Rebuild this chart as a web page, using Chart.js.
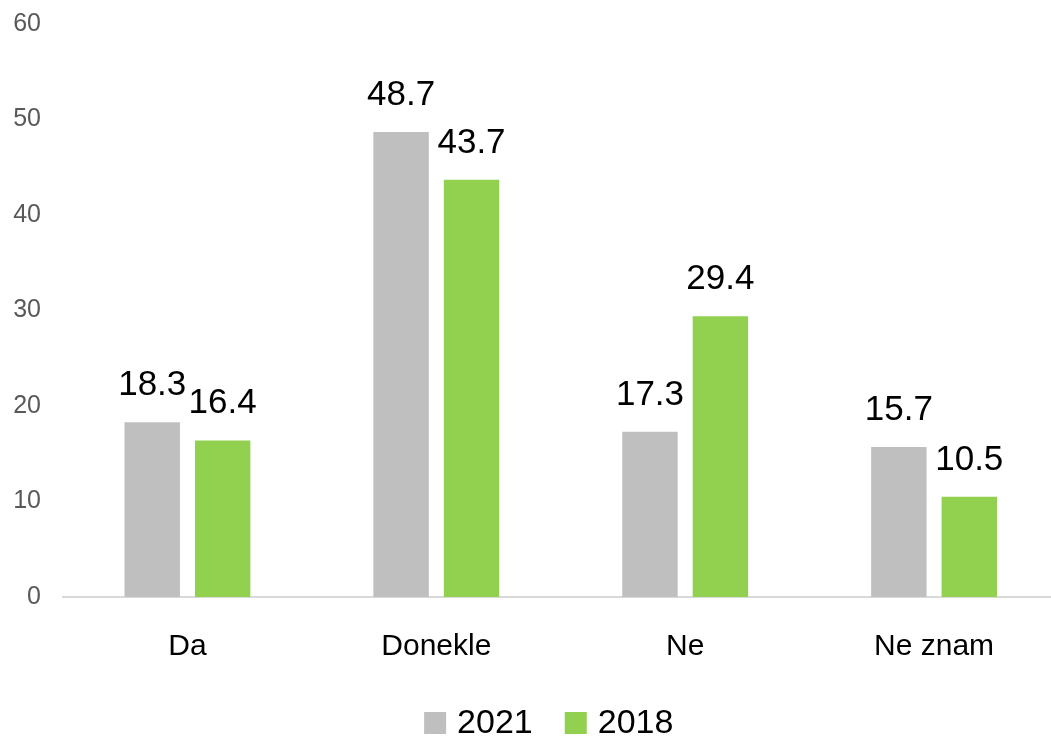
<!DOCTYPE html>
<html>
<head>
<meta charset="utf-8">
<script src="https://cdn.jsdelivr.net/npm/chart.js@4.4.1/dist/chart.umd.min.js"></script>
<style>
  html, body { margin: 0; padding: 0; overflow: hidden; background: #ffffff; }
  #wrap { width: 1060px; height: 737px; position: relative; }
</style>
</head>
<body>
<div id="wrap"><canvas id="c"></canvas></div>
<script>
const categories = ['Da', 'Donekle', 'Ne', 'Ne znam'];
const seriesNames = ['2021', '2018'];
const values2021 = [18.3, 48.7, 17.3, 15.7];
const values2018 = [16.4, 43.7, 29.4, 10.5];
const yTicks = [0, 10, 20, 30, 40, 50, 60];

const FONT = "'Liberation Sans', Arial, sans-serif";

const valueLabels = {
  id: 'valueLabels',
  afterDatasetsDraw(chart) {
    const ctx = chart.ctx;
    ctx.save();
    ctx.font = '35px ' + FONT;
    ctx.fillStyle = '#000000';
    ctx.textAlign = 'center';
    ctx.textBaseline = 'alphabetic';
    chart.data.datasets.forEach((ds, di) => {
      const meta = chart.getDatasetMeta(di);
      meta.data.forEach((bar, i) => {
        ctx.fillText(ds.data[i].toFixed(1), bar.x, bar.y - 27);
      });
    });
    ctx.restore();
  }
};

const bottomLegend = {
  id: 'bottomLegend',
  afterDraw(chart) {
    const ctx = chart.ctx;
    const area = chart.chartArea;
    const box = 22, gapBoxText = 11, gapItems = 32;
    ctx.save();
    ctx.font = '34px ' + FONT;
    const items = chart.data.datasets.map(ds => ({
      text: ds.label, color: ds.backgroundColor, w: ctx.measureText(ds.label).width
    }));
    let total = 0;
    items.forEach((it, i) => { total += box + gapBoxText + it.w + (i ? gapItems : 0); });
    let x = (area.left + area.right) / 2 - 12 - total / 2;
    const baseY = area.bottom + 136;
    ctx.textAlign = 'left';
    ctx.textBaseline = 'alphabetic';
    items.forEach(it => {
      ctx.fillStyle = it.color;
      ctx.fillRect(x, baseY - 21, box, box);
      x += box + gapBoxText;
      ctx.fillStyle = '#000000';
      ctx.fillText(it.text, x, baseY);
      x += it.w + gapItems;
    });
    ctx.restore();
  }
};

new Chart(document.getElementById('c'), {
  type: 'bar',
  data: {
    labels: categories,
    datasets: [
      { label: seriesNames[0], data: values2021, backgroundColor: '#bfbfbf' },
      { label: seriesNames[1], data: values2018, backgroundColor: '#92d050' }
    ]
  },
  plugins: [valueLabels, bottomLegend],
  options: {
    responsive: true,
    maintainAspectRatio: false,
    animation: false,
    layout: { padding: { top: 24, left: 0, right: 1.5, bottom: 66 } },
    datasets: { bar: { categoryPercentage: 0.566, barPercentage: 0.787 } },
    plugins: {
      tooltip: { enabled: false },
      legend: { display: false }
    },
    scales: {
      x: {
        grid: { display: false, drawTicks: false },
        border: { display: true, color: '#d9d9d9', width: 2 },
        ticks: { color: '#000000', padding: 32, font: { family: FONT, size: 30 } },
        afterFit(scale) { scale.height = 74; }
      },
      y: {
        min: 0,
        max: 60,
        afterBuildTicks(scale) { scale.ticks = yTicks.map(v => ({ value: v })); },
        grid: { display: false, drawTicks: false },
        border: { display: false },
        ticks: { color: '#595959', padding: 22, font: { family: FONT, size: 25, lineHeight: 0.05 } },
        afterFit(scale) { scale.width = 63; }
      }
    }
  }
});
</script>
</body>
</html>
